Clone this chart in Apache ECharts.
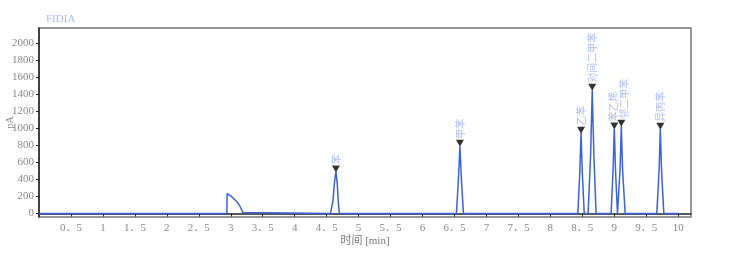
<!DOCTYPE html>
<html><head><meta charset="utf-8">
<script src="https://cdn.jsdelivr.net/npm/echarts@6/dist/echarts.min.js"></script>
<style>html,body{margin:0;padding:0;background:#fff}#c{width:737px;height:257px}</style>
</head><body><div id="c"></div>
<script>
// chromatogram trace: retention time [min] and signal [pA]
const times  = [0, 2.94, 2.942, 3.02, 3.10, 3.15, 3.19, 3.21,
                4.56, 4.60, 4.625, 4.645, 4.665, 4.685, 4.70,
                6.53, 6.56, 6.585, 6.61, 6.64,
                8.43, 8.46, 8.48, 8.50, 8.53,
                8.59, 8.63, 8.655, 8.68, 8.715,
                8.95, 8.98, 9.00, 9.02, 9.05,
                9.06, 9.09, 9.11, 9.13, 9.17,
                9.665, 9.70, 9.72, 9.74, 9.775,
                10];
const signal = [0, 0, 235, 195, 137, 78, 12, 0,
                0, 160, 390, 490, 360, 110, 0,
                0, 380, 790, 380, 0,
                0, 480, 945, 470, 0,
                0, 700, 1450, 700, 0,
                0, 500, 995, 490, 0,
                0, 520, 1027, 510, 0,
                0, 500, 992, 490, 0,
                0];
const peakNames   = ['苯', '甲苯', '乙苯', '对间二甲苯', '苯乙烯', '邻二甲苯', '异丙苯'];
const peakTimes   = [4.645, 6.585, 8.48, 8.655, 9.00, 9.11, 9.72];
const peakHeights = [490, 790, 945, 1450, 995, 1027, 992];
const xTicks = [0.5, 1, 1.5, 2, 2.5, 3, 3.5, 4, 4.5, 5, 5.5, 6, 6.5, 7, 7.5, 8, 8.5, 9, 9.5, 10];
const yTicks = [0, 200, 400, 600, 800, 1000, 1200, 1400, 1600, 1800, 2000];

const chart = echarts.init(document.getElementById('c'));
const serif = "'Liberation Serif','DejaVu Serif','Noto Sans CJK SC',serif";
// small label nudges (in rotated label frame: [along text, across text])
const labelNudge = { '苯乙烯': [0, -1], '邻二甲苯': [0, 3] };
chart.setOption({
  animation: false,
  title: { text: 'FIDIA', left: 41, top: 9,
    textStyle: { fontSize: 11, fontWeight: 'normal', color: '#a9baee', fontFamily: serif } },
  grid: { left: 39, right: 46, top: 28, bottom: 40, containLabel: false, outerBoundsMode: 'none',
    show: true, borderColor: '#777', borderWidth: 1.5 },
  xAxis: {
    type: 'value', min: 0, max: 10.2,
    name: '时间 [min]', nameLocation: 'middle', nameGap: 19, nameMoveOverlap: false,
    nameTextStyle: { fontSize: 11, color: '#777', fontFamily: serif },
    axisLine: { show: true, lineStyle: { color: '#222', width: 1.5 } },
    axisTick: { show: true, length: 3, customValues: xTicks, lineStyle: { color: '#222' } },
    axisLabel: { customValues: xTicks, margin: 6, fontSize: 11, color: '#888', fontFamily: serif,
      formatter: v => String(v).replace('.', '．') },
    splitLine: { show: false }
  },
  yAxis: {
    type: 'value', min: -40, max: 2180,
    name: 'pA', nameLocation: 'middle', nameGap: 24, nameRotate: 90, nameMoveOverlap: false,
    nameTextStyle: { fontSize: 10, color: '#888', fontFamily: serif },
    axisLine: { show: true, lineStyle: { color: '#222', width: 1.5 } },
    axisTick: { show: true, length: 3, customValues: yTicks, lineStyle: { color: '#222' } },
    axisLabel: { customValues: yTicks, margin: 5, fontSize: 11, color: '#888', fontFamily: serif,
      formatter: v => String(v) },
    splitLine: { show: false }
  },
  series: [
    { type: 'line', data: times.map((t, i) => [t, signal[i]]), symbol: 'none',
      lineStyle: { color: '#3b62d9', width: 1.5 }, z: 2 },
    { type: 'scatter',
      data: peakTimes.map((t, i) => ({
        value: [t, peakHeights[i], peakNames[i]],
        label: labelNudge[peakNames[i]] ? { offset: labelNudge[peakNames[i]] } : undefined
      })),
      symbol: 'triangle', symbolRotate: 180, symbolSize: [8, 7], symbolOffset: [0, -3],
      itemStyle: { color: '#000' }, z: 3,
      label: { show: true, position: 'top', distance: 1, rotate: 90, align: 'left', verticalAlign: 'middle',
        formatter: p => p.value[2], fontSize: 10, color: '#9aaeee',
        fontFamily: "'Noto Sans CJK SC',sans-serif" } }
  ]
});
</script></body></html>
